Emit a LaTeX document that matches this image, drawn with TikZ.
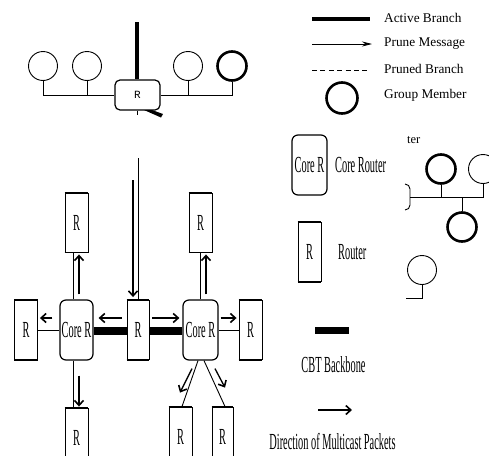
\documentclass[tikz,border=0pt]{standalone}
\usepackage{fontspec}
\setmainfont{Liberation Serif}
\newfontfamily\condfont[FakeStretch=0.45]{Liberation Serif}
\newfontfamily\rmono{Liberation Mono}
\usetikzlibrary{arrows.meta,calc}
\begin{document}
\begin{tikzpicture}[x=1pt,y=-1pt,
 thinl/.style={line width=0.9},
 member/.style={circle, draw, line width=0.9, minimum size=29, inner sep=0},
 gmember/.style={member, line width=2.6},
 rbox/.style={draw, line width=0.9, minimum width=23, minimum height=59, inner sep=0,
   font=\condfont\fontsize{23}{23}\selectfont,
   append after command={(\tikzlastnode.north west) edge[line width=1.9] (\tikzlastnode.north east)
     (\tikzlastnode.south west) edge[line width=1.9] (\tikzlastnode.south east)}},
 corebox/.style={draw, rounded corners=6, line width=1.2, minimum width=33, minimum height=60, inner sep=0,
   font=\condfont\fontsize{23}{23}\selectfont},
 pkt/.style={line width=1.3, -{Straight Barb[length=5,width=9,line width=1.6]}},
 backbone/.style={line width=8},
 legtext/.style={anchor=west, font=\fontsize{13.3}{14}\selectfont, inner sep=0},
 condtext/.style={font=\condfont\fontsize{23}{23}\selectfont, inner sep=0},
]
\useasboundingbox (0,0) rectangle (489,455);
\clip (0,0) rectangle (489,455);

% ---------- top: router with members ----------
\node[member] (c1) at (43,66) {};
\node[member] (c2) at (87,66) {};
\node[member] (c3) at (188,66) {};
\node[gmember] (c4) at (232,66) {};
\node[draw, rounded corners=5, line width=1.2, minimum width=45, minimum height=30, inner sep=0,
  font=\rmono\fontsize{11}{11}\selectfont] (tr) at (137.5,95) {R};
\coordinate (top) at (137,22);
\draw[line width=4] (top) -- (top |- tr.north);
\draw[thinl] (c1.south) |- (tr.west);
\draw[thinl] (c2.south) -- (c2.south |- tr.west);
\draw[thinl] (c4.south) |- (tr.east);
\draw[thinl] (c3.south) -- (c3.south |- tr.east);
\draw[thinl] (tr.south) -- ++(0,4);
\fill (144,110) -- (152,110) -- (163,114) -- (161,117.5) -- cycle;

% ---------- top legend ----------
\coordinate (la1) at (312,19); \coordinate (la2) at (370,19);
\draw[line width=4] (la1) -- (la2);
\node[legtext] at (384,18) {Active Branch};
\coordinate (lb1) at (312,44); \coordinate (lb2) at (372,44);
\draw[thinl, -{Stealth[length=10,width=5]}] (lb1) -- (lb2);
\node[legtext] at (384,44) {Prune Message};
\coordinate (lc1) at (312,70); \coordinate (lc2) at (370,70);
\draw[thinl, dash pattern=on 5 off 3.4] (lc1) -- (lc2);
\node[legtext] at (384,69) {Pruned Branch};
\node[gmember, minimum size=31] (lg) at (342,98) {};
\node[legtext] at (384,95) {Group Member};

% ---------- middle legend ----------
\node[corebox, minimum width=35] (lcore) at (309.5,165) {Core R};
\node[condtext, anchor=west] at (335,165) {Core Router};
\node[rbox] (lr) at (309.5,252) {R};
\node[condtext, anchor=west] at (338,252) {Router};

% ---------- partial group at right ----------
\node[legtext, font=\fontsize{12.5}{13}\selectfont] at (407,140) {ter};
\draw[thinl] (405,184) to[out=0,in=90] (410,189) -- (410,205) to[out=-90,in=0] (405,210);
\coordinate (bus1) at (410,197);
\node[gmember] (g1) at (441,169) {};
\node[member] (g2) at (483,169) {};
\node[gmember] (g3) at (462,227) {};
\draw[thinl] (bus1) -| (g2.south);
\draw[thinl] (g1.south) -- (g1.south |- bus1);
\draw[thinl] (g3.north) -- (g3.north |- bus1);
\node[member] (g4) at (422,270) {};
\coordinate (g4end) at (406,298);
\draw[thinl] (g4.south) |- (g4end);

% ---------- bottom legend ----------
\coordinate (bb1) at (315,330.5); \coordinate (bb2) at (349,330.5);
\draw[line width=7] (bb1) -- (bb2);
\node[condtext] at (333.5,365) {CBT Backbone};
\coordinate (da1) at (318,410); \coordinate (da2) at (352,410);
\draw[pkt, line width=1.8] (da1) -- (da2);
\node[condtext] at (332.5,441.5) {Direction of Multicast Packets};

% ---------- main CBT diagram ----------
\node[rbox] (rL) at (26,330) {R};
\node[corebox] (coreL) at (76.5,330) {Core R};
\node[rbox, minimum width=22] (rC) at (138,330) {R};
\node[corebox, minimum width=35] (coreR) at (200.5,330) {Core R};
\node[rbox] (rR) at (250.5,330) {R};
\node[rbox] (rTL) at (76.5,222.5) {R};
\node[rbox] (rTR) at (200.5,222.5) {R};
\node[rbox, minimum height=60] (rBL) at (76.5,438) {R};
\node[rbox, minimum height=60] (rB1) at (180.5,437) {R};
\node[rbox, minimum height=60, minimum width=21] (rB2) at (222.5,437) {R};

% links
\draw[thinl] ([xshift=-3.5pt]rTL.south) -- ([xshift=-3.5pt]coreL.north);
\draw[pkt] ($(coreL.north)+(2.5,-5)$) -- ($(rTL.south)+(2.5,2)$);
\coordinate (src) at (138,158);
\draw[thinl] (src) -- (rC.north);
\draw[pkt] ($(src)+(-5,22)$) -- ($(rC.north)+(-5,-3)$);
\draw[thinl] ([xshift=-0.5pt]rTR.south) -- ([xshift=-0.5pt]coreR.north);
\draw[pkt] ($(coreR.north)+(5.5,-5)$) -- ($(rTR.south)+(5.5,2)$);

\draw[thinl] (rL.east) -- (coreL.west);
\draw[thinl] (coreR.east) -- (rR.west);
\draw[backbone] ($(coreL.east)+(0,1)$) -- ($(rC.west)+(0,1)$);
\draw[backbone] ($(rC.east)+(0,1)$) -- ($(coreR.west)+(0,1)$);

\draw[pkt] ($(coreL.west)+(-7,-12)$) -- ($(rL.east)+(2,-12)$);
\draw[pkt] ($(rC.west)+(-5,-12)$) -- ($(coreL.east)+(5,-12)$);
\draw[pkt] ($(rC.east)+(3,-12)$) -- ($(coreR.west)+(-3,-12)$);
\draw[pkt] ($(coreR.east)+(2,-12)$) -- ($(rR.west)+(-2,-12)$);

\draw[thinl] ([xshift=-3.5pt]coreL.south) -- ([xshift=-3.5pt]rBL.north);
\draw[pkt] ($(coreL.south)+(2.5,15)$) -- ($(rBL.north)+(2.5,-1)$);

\draw[thinl] ($(coreR.south)+(-2.5,0)$) -- ($(rB1.north)+(1.5,0)$);
\draw[thinl] ($(coreR.south)+(3.5,0)$) -- ($(rB2.north)+(2.5,0)$);
\draw[pkt] ($(coreR.south)+(-8.5,8)$) -- ($(coreR.south)+(-20.5,32)$);
\draw[pkt] ($(coreR.south)+(14.5,8)$) -- ($(coreR.south)+(24.5,27)$);
\end{tikzpicture}
\end{document}
